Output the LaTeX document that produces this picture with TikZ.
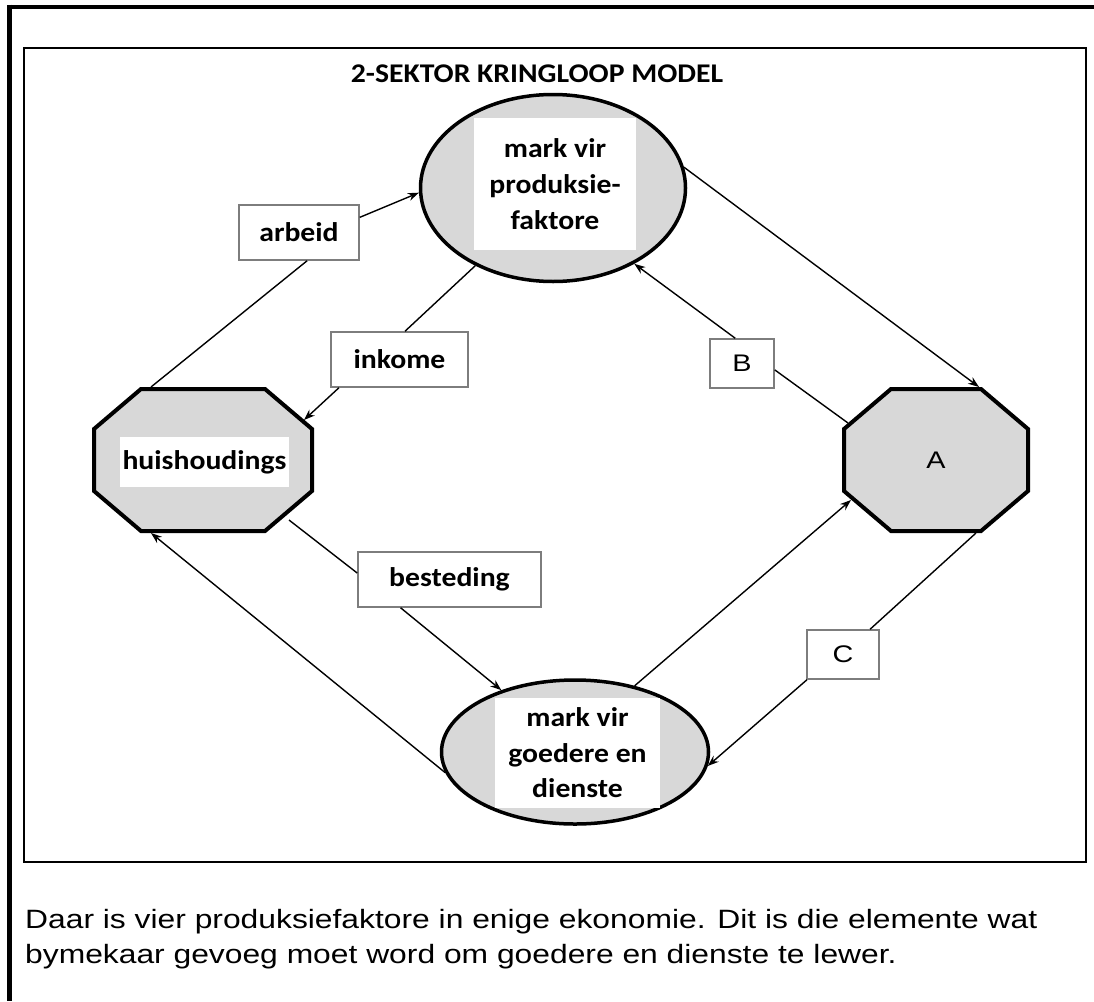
\documentclass[tikz,border=0pt]{standalone}
\usepackage{fontspec}
\setmainfont{Carlito}[FakeStretch=1.1]
\newfontfamily\arialfont{Liberation Sans}[FakeStretch=1.2]
\usetikzlibrary{shapes.geometric,arrows.meta,calc}
\definecolor{shapegray}{RGB}{216,216,216}
\definecolor{boxline}{RGB}{125,125,125}

\begin{document}
\begin{tikzpicture}[x=1pt,y=-1pt,
        >={Stealth[length=11pt,width=8pt]},
        bigfont/.style={font=\bfseries\fontsize{27}{36}\selectfont},
        market/.style={draw,ellipse,fill=shapegray,line width=3.5pt,inner sep=0pt},
        sector/.style={draw,fill=shapegray,line width=4pt,line join=miter},
        whitelbl/.style={bigfont,fill=white,align=center,inner sep=0pt},
        flowbox/.style={draw=boxline,line width=1.5pt,fill=white,inner sep=0pt,minimum height=55pt},
        letterbox/.style={draw=boxline,line width=1.5pt,fill=white,inner sep=0pt,
                minimum width=64pt,minimum height=49pt,font=\arialfont\fontsize{24}{28}\selectfont},
        flow/.style={line width=1.4pt}]
            \useasboundingbox (0,0) rectangle (1094,1001);

            \draw[line width=5pt] (9.5,4.5) -- (9.5,1001);
            \draw[line width=4.5pt] (7,7) -- (1094,7);
            \draw[line width=2pt] (24,48) rectangle (1086,862);

            \node[bigfont,anchor=base] (title) at (537,82) {2-SEKTOR KRINGLOOP MODEL};

            \node[market,minimum width=265pt,minimum height=187pt] (fmark) at (553,188) {};
            \node[whitelbl,minimum width=162pt,minimum height=132pt] (fmarklbl) at (555,184) {mark vir\\produksie-\\faktore};

            \node[market,minimum width=267pt,minimum height=144pt] (gmark) at (575,752) {};
            \node[whitelbl,minimum width=165pt,minimum height=110pt,font=\bfseries\fontsize{27}{35.5}\selectfont] (gmarklbl) at (577.5,753) {mark vir\\goedere en\\dienste};

            \node[inner sep=0pt,minimum width=218pt,minimum height=142pt] (huis) at (203,460) {};
            \node[inner sep=0pt,minimum width=184pt,minimum height=142pt] (sekA) at (936,460) {};
            \foreach \oct/\hw in {huis/109,sekA/92}{
                    \draw[sector] ($(\oct.center)+(-\hw+47,-71)$) -- ($(\oct.center)+(\hw-47,-71)$)
                        -- ($(\oct.center)+(\hw,-31)$) -- ($(\oct.center)+(\hw,31)$)
                        -- ($(\oct.center)+(\hw-47,71)$) -- ($(\oct.center)+(-\hw+47,71)$)
                        -- ($(\oct.center)+(-\hw,31)$) -- ($(\oct.center)+(-\hw,-31)$) -- cycle;
                }
            \node[whitelbl,minimum width=169pt,minimum height=50pt] (huislbl) at (204.5,462) {huishoudings};
            \node[font=\arialfont\fontsize{24}{28}\selectfont] (sekAlbl) at (sekA.center) {A};

            \foreach \name/\pos/\boxwd/\txt in {arbeid/{(299,232.5)}/120/arbeid,
                    inkome/{(399.5,359.5)}/137/inkome,
                    besteding/{(449.5,579.5)}/183/besteding}{
                    \node[flowbox,bigfont,minimum width=\boxwd pt] (\name) at \pos {\txt};
                }
            \node[letterbox] (bbox) at (742,363.5) {B};
            \node[letterbox,minimum width=72pt] (cbox) at (843,654.5) {C};

            \draw[flow] ($(huis.center)+(-52,-73)$) -- (arbeid.-74);
            \draw[flow,->] (arbeid.14) -- (fmark.182);
            \draw[flow] (fmark.225) -- (inkome.79);
            \draw[flow,->] (inkome.205) -- ($(huis.center)+(101,-40)$);
            \draw[flow] ($(huis.center)+(86,60)$) -- (besteding.176);
            \draw[flow,->] (besteding.210) -- (gmark.140);
            \draw[flow,->] (gmark.189) -- ($(huis.center)+(-52,73)$);
            \draw[flow,->] (gmark.48) -- ($(sekA.center)+(-85,40)$);
            \draw[flow,->] (fmark.9) -- ($(sekA.center)+(43,-73)$);
            \draw[flow] ($(sekA.center)+(-88,-37)$) -- (bbox.-11);
            \draw[flow,->] (bbox.105) -- (fmark.-43);
            \draw[flow] ($(sekA.center)+(40,73)$) -- (cbox.43);
            \draw[flow,->] (cbox.215) -- (gmark.-6);

            \node[anchor=base west,inner sep=0pt,font=\arialfont\fontsize{26.5}{35}\selectfont] (note1) at (25,928) {Daar is vier produksiefaktore in enige ekonomie. Dit is die elemente wat};
            \node[anchor=base west,inner sep=0pt,font=\arialfont\fontsize{26.5}{35}\selectfont] (note2) at (25,963) {bymekaar gevoeg moet word om goedere en dienste te lewer.};
        \end{tikzpicture}
\end{document}
